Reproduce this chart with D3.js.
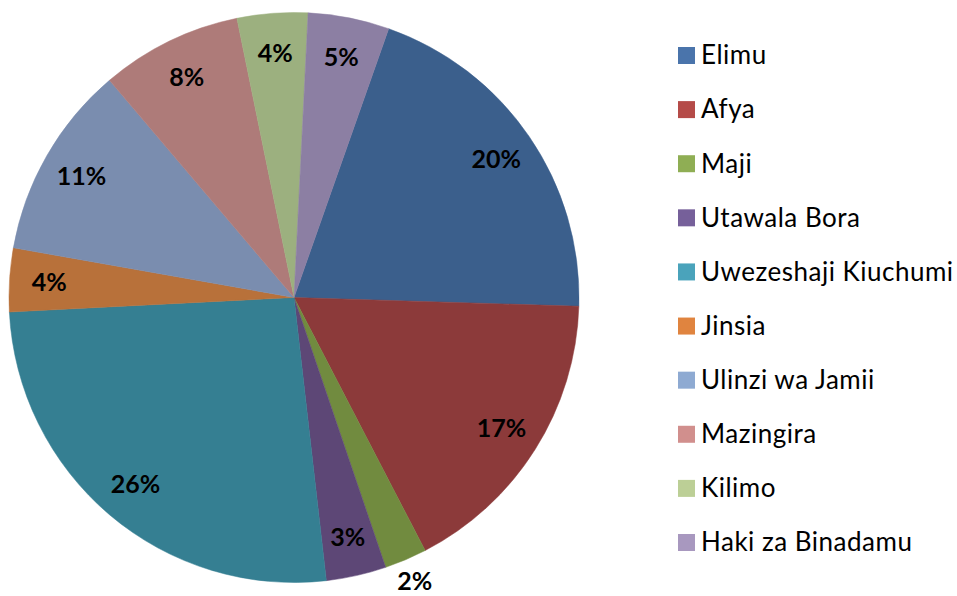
<!DOCTYPE html>
<html>
<head>
<meta charset="utf-8">
<script src="https://cdn.jsdelivr.net/npm/d3@7"></script>
<style>
  body { margin: 0; background: #fff; }
  .label { font-family: Lato, "Open Sans", sans-serif; font-weight: bold; font-size: 25px; fill: #000; }
  .legend text { font-family: Lato, "Open Sans", sans-serif; font-size: 26px; letter-spacing: 0.5px; fill: #000; }
</style>
</head>
<body>
<svg width="957" height="596"></svg>
<script>
// **** data ****
var categories = ['Elimu', 'Afya', 'Maji', 'Utawala Bora', 'Uwezeshaji Kiuchumi', 'Jinsia',
    'Ulinzi wa Jamii', 'Mazingira', 'Kilimo', 'Haki za Binadamu'];
var shares = [20.1, 16.9, 2.4, 3.4, 26.0, 3.6, 11.0, 8.0, 4.0, 4.6];

// slice colours (shaded) and legend colours
var sliceColors = ['#3b5f8c', '#8c3a3a', '#718b3f', '#5d4776', '#357f92', '#b8713a',
    '#7a8daf', '#ae7b79', '#9cb07f', '#8c7fa3'];
var legendColors = ['#4a74ab', '#b54b48', '#8fae54', '#76609a', '#4aa3bb', '#e0843f',
    '#8eaad2', '#d18f8d', '#bccf96', '#a898bf'];

var svg = d3.select('svg');
var cx = 294, cy = 297.5, radius = 285;
var offset = 19.4 * Math.PI / 180;

var pie = d3.pie().sort(null)
    .startAngle(offset).endAngle(offset + 2 * Math.PI);
var arc = d3.arc().innerRadius(0).outerRadius(radius);
var labelArc = d3.arc().innerRadius(radius * 0.86).outerRadius(radius * 0.86);
var outsideArc = d3.arc().innerRadius(radius * 1.08).outerRadius(radius * 1.08);

var arcs = pie(shares);
var g = svg.append('g').attr('transform', 'translate(' + cx + ',' + cy + ')');

g.selectAll('path').data(arcs).enter().append('path')
    .attr('d', arc)
    .style('fill', function(d, i) { return sliceColors[i]; })
    .style('stroke', function(d, i) { return sliceColors[i]; })
    .style('stroke-width', 0.5);

// small slices get their label outside the pie
g.selectAll('text').data(arcs).enter().append('text')
    .attr('class', 'label')
    .attr('transform', function(d) {
        var c = d.data < 3 ? outsideArc.centroid(d) : labelArc.centroid(d);
        return 'translate(' + c + ')';
    })
    .attr('text-anchor', 'middle')
    .attr('dy', '0.36em')
    .text(function(d) { return Math.round(d.data) + '%'; });

// **** legend ****
var legendY = d3.scalePoint().domain(categories).range([55, 542]);

var legend = svg.append('g').attr('class', 'legend')
    .selectAll('g').data(categories).enter().append('g')
    .attr('transform', function(d) { return 'translate(678,' + legendY(d) + ')'; });

legend.append('rect')
    .attr('x', 0).attr('y', -8)
    .attr('width', 17).attr('height', 17)
    .style('fill', function(d, i) { return legendColors[i]; });

legend.append('text')
    .attr('x', 23).attr('dy', '0.36em')
    .text(function(d) { return d; });
</script>
</body>
</html>
